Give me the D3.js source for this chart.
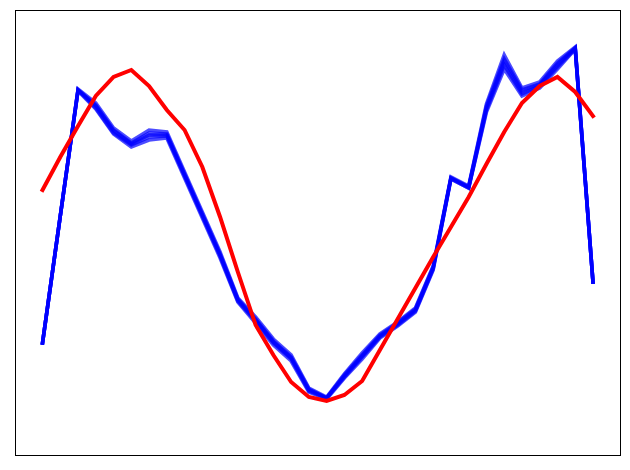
<!DOCTYPE html>
<html>
<head>
<meta charset="utf-8">
<script src="https://cdn.jsdelivr.net/npm/d3@7"></script>
<style>
  html, body { margin: 0; padding: 0; background: #fff; }
</style>
</head>
<body>
<div id="chart"></div>
<script>
// Sample index 0..31
const steps = d3.range(32);

// Red reference curve
const redValues = [2.65, 2.98, 3.29, 3.59, 3.78, 3.85, 3.69, 3.45, 3.25, 2.88, 2.38, 1.83, 1.30, 1.00, 0.73, 0.58,
  0.54, 0.60, 0.74, 1.05, 1.36, 1.67, 1.98, 2.28, 2.58, 2.91, 3.23, 3.52, 3.69, 3.78, 3.63, 3.39];

// Blue band, drawn as several overlapping traces
const blueUpper = [1.12, 2.39, 3.66, 3.52, 3.27, 3.14, 3.25, 3.23, 2.83, 2.43, 2.03, 1.57, 1.38, 1.16, 1.00, 0.67,
  0.58, 0.81, 1.02, 1.21, 1.33, 1.47, 1.89, 2.78, 2.69, 3.51, 4.00, 3.67, 3.73, 3.94, 4.08, 1.73];
const blueUpperMid = [1.12, 2.39, 3.65, 3.50, 3.25, 3.12, 3.22, 3.21, 2.81, 2.41, 2.01, 1.56, 1.36, 1.14, 0.98, 0.66,
  0.57, 0.80, 1.00, 1.20, 1.32, 1.46, 1.88, 2.77, 2.68, 3.49, 3.96, 3.65, 3.71, 3.92, 4.07, 1.73];
const blueMid = [1.12, 2.39, 3.65, 3.49, 3.24, 3.11, 3.20, 3.20, 2.80, 2.40, 2.00, 1.55, 1.35, 1.13, 0.97, 0.65,
  0.57, 0.79, 0.99, 1.19, 1.31, 1.45, 1.87, 2.77, 2.68, 3.47, 3.93, 3.63, 3.70, 3.90, 4.07, 1.73];
const blueLowerMid = [1.12, 2.39, 3.65, 3.47, 3.22, 3.10, 3.18, 3.19, 2.79, 2.39, 1.99, 1.54, 1.34, 1.12, 0.96, 0.64,
  0.57, 0.78, 0.98, 1.18, 1.30, 1.44, 1.86, 2.76, 2.67, 3.45, 3.90, 3.61, 3.69, 3.88, 4.06, 1.73];
const blueLower = [1.12, 2.39, 3.64, 3.46, 3.21, 3.08, 3.15, 3.17, 2.77, 2.37, 1.97, 1.53, 1.32, 1.10, 0.94, 0.63,
  0.56, 0.77, 0.96, 1.17, 1.29, 1.43, 1.85, 2.76, 2.67, 3.43, 3.86, 3.59, 3.67, 3.86, 4.06, 1.73];

const width = 630;
const height = 470;
const plot = { left: 15, top: 10, right: 620.5, bottom: 455 };

const svg = d3.select("#chart")
  .append("svg")
  .attr("width", width)
  .attr("height", height);

// Scales (5% padding on x like the original)
const x = d3.scaleLinear()
  .domain([-1.55, 32.55])
  .range([plot.left, plot.right]);

const y = d3.scaleLinear()
  .domain([0, 4.45])
  .range([plot.bottom, plot.top]);

const line = d3.line()
  .x((d, i) => x(steps[i]))
  .y(d => y(d));

// Blue traces
[blueUpper, blueLower, blueUpperMid, blueLowerMid, blueMid].forEach(series => {
  svg.append("path")
    .datum(series)
    .attr("d", line)
    .attr("fill", "none")
    .attr("stroke", "#0000ff")
    .attr("stroke-width", 3.6)
    .attr("stroke-opacity", 0.7)
    .attr("stroke-linejoin", "miter")
    .attr("stroke-linecap", "square");
});

// Red curve
svg.append("path")
  .datum(redValues)
  .attr("d", line)
  .attr("fill", "none")
  .attr("stroke", "#ff0000")
  .attr("stroke-width", 4)
  .attr("stroke-linejoin", "miter")
  .attr("stroke-linecap", "square");

// Frame
svg.append("rect")
  .attr("x", plot.left + 0.5)
  .attr("y", plot.top + 0.5)
  .attr("width", plot.right - plot.left - 0.5)
  .attr("height", plot.bottom - plot.top)
  .attr("fill", "none")
  .attr("stroke", "#000")
  .attr("stroke-width", 1);
</script>
</body>
</html>
